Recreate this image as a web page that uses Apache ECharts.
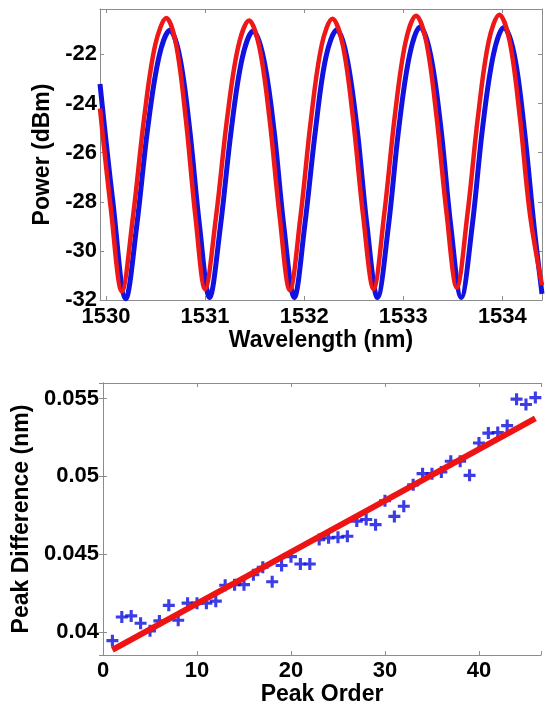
<!DOCTYPE html>
<html>
<head>
<meta charset="utf-8">
<script src="https://cdn.jsdelivr.net/npm/echarts@6/dist/echarts.min.js"></script>
<style>
html,body{margin:0;padding:0;background:#fff;}
#chart{width:546px;height:707px;}
</style>
</head>
<body>
<div id="chart"></div>
<script>
// ---- Top panel: spectra ----
const redWavelength = [1529.94, 1530.05, 1530.16, 1530.273, 1530.385, 1530.498, 1530.61, 1530.708, 1530.805, 1530.903, 1531.0, 1531.111, 1531.223, 1531.334, 1531.445, 1531.548, 1531.65, 1531.753, 1531.855, 1531.963, 1532.07, 1532.178, 1532.285, 1532.389, 1532.493, 1532.596, 1532.7, 1532.808, 1532.915, 1533.023, 1533.13, 1533.233, 1533.335, 1533.438, 1533.54, 1533.648, 1533.755, 1533.863, 1533.97, 1534.073, 1534.175, 1534.278, 1534.4];
const redPower = [-24.2, -28.3, -31.65, -28.6, -24.6, -21.6, -20.52, -21.6, -24.6, -28.6, -31.55, -28.6, -24.6, -21.7, -20.62, -21.7, -24.6, -28.6, -31.6, -28.6, -24.6, -21.6, -20.55, -21.6, -24.6, -28.6, -31.55, -28.5, -24.5, -21.5, -20.42, -21.5, -24.5, -28.5, -31.5, -28.5, -24.5, -21.45, -20.38, -21.45, -24.5, -28.5, -31.4];
const blueWavelength = [1529.94, 1530.07, 1530.2, 1530.31, 1530.42, 1530.535, 1530.645, 1530.745, 1530.845, 1530.945, 1531.045, 1531.155, 1531.265, 1531.375, 1531.485, 1531.59, 1531.695, 1531.795, 1531.9, 1532.005, 1532.115, 1532.22, 1532.33, 1532.43, 1532.535, 1532.635, 1532.74, 1532.85, 1532.955, 1533.065, 1533.17, 1533.275, 1533.38, 1533.48, 1533.585, 1533.695, 1533.8, 1533.91, 1534.015, 1534.12, 1534.22, 1534.32, 1534.4];
const bluePower = [-23.2, -28.0, -31.95, -29.0, -25.05, -22.1, -21.02, -22.1, -25.05, -29.0, -31.9, -29.0, -25.05, -22.15, -21.05, -22.15, -25.05, -29.0, -31.9, -29.0, -25.05, -22.1, -21.0, -22.1, -25.05, -29.0, -31.9, -29.0, -25.0, -22.0, -20.88, -22.0, -25.0, -29.0, -31.9, -29.0, -25.0, -22.0, -20.9, -22.0, -25.0, -29.0, -31.75];

// ---- Bottom panel: peak difference ----
const peakOrder = [1,2,3,4,5,6,7,8,9,10,11,12,13,14,15,16,17,18,19,20,21,22,23,24,25,26,27,28,29,30,31,32,33,34,35,36,37,38,39,40,41,42,43,44,45,46];
const peakDiff = [0.03943, 0.04095, 0.04102, 0.04055, 0.04006, 0.0407, 0.0417, 0.04074, 0.04184, 0.04184, 0.04184, 0.04197, 0.04299, 0.04303, 0.04303, 0.04367, 0.04415, 0.04322, 0.04426, 0.04483, 0.04436, 0.04436, 0.04593, 0.04604, 0.04608, 0.04614, 0.04712, 0.04722, 0.04689, 0.04843, 0.04742, 0.04807, 0.04945, 0.05017, 0.05017, 0.05028, 0.05097, 0.05097, 0.05006, 0.05214, 0.05278, 0.05282, 0.05326, 0.05496, 0.05462, 0.05506];
const fitOrder = [1, 46];
const fitDiff = [0.03883, 0.05373];

const FONT = 'Arial, "Liberation Sans", sans-serif';
const AXIS_GRAY = '#8c8c8c';
const labelStyle = {color:'#000', fontWeight:'bold', fontSize:22, fontFamily:FONT};
const nameStyle = {color:'#000', fontWeight:'bold', fontSize:23, fontFamily:FONT};

function frameAxis(extra){
  return Object.assign({
    type:'value', scale:true,
    axisLine:{show:true, lineStyle:{color:AXIS_GRAY, width:1}},
    axisTick:{show:true, inside:true, length:4, lineStyle:{color:AXIS_GRAY}},
    axisLabel:{show:false},
    splitLine:{show:false}
  }, extra);
}
function isMult(v, step){ const r = v/step; return Math.abs(r - Math.round(r)) < 1e-6; }

const chart = echarts.init(document.getElementById('chart'), null, {renderer:'canvas'});
chart.setOption({
  backgroundColor:'#fff',
  animation:false,
  grid:[
    {left:100, right:4, top:9, height:291},
    {left:103, right:5, top:383, height:274}
  ],
  xAxis:[
    frameAxis({gridIndex:0, min:1529.94, max:1534.4, splitNumber:4, position:'bottom',
      axisLabel:Object.assign({show:true, margin:6, formatter:v=>isMult(v,1)?String(Math.round(v)):''}, labelStyle),
      name:'Wavelength (nm)', nameLocation:'middle', nameGap:28, nameTextStyle:nameStyle}),
    frameAxis({gridIndex:0, min:1529.94, max:1534.4, splitNumber:4, position:'top'}),
    frameAxis({gridIndex:1, min:0, max:46.6, interval:10, position:'bottom',
      axisLabel:Object.assign({show:true, margin:5, formatter:v=>isMult(v,10)?String(Math.round(v)):''}, labelStyle),
      name:'Peak Order', nameLocation:'middle', nameGap:19, nameTextStyle:nameStyle}),
    frameAxis({gridIndex:1, min:0, max:46.6, interval:10, position:'top'})
  ],
  yAxis:[
    frameAxis({gridIndex:0, min:-32, max:-20.15, interval:2, position:'left',
      axisLabel:Object.assign({show:true, margin:3, formatter:v=>isMult(v,2)?String(Math.round(v)):''}, labelStyle),
      name:'Power (dBm)', nameLocation:'middle', nameGap:39, nameTextStyle:nameStyle}),
    frameAxis({gridIndex:0, min:-32, max:-20.15, interval:2, position:'right'}),
    frameAxis({gridIndex:1, min:0.0385, max:0.056, splitNumber:4, position:'left',
      axisLabel:Object.assign({show:true, margin:4, formatter:v=>isMult(v,0.005)?String(+v.toFixed(3)):''}, labelStyle),
      name:'Peak Difference (nm)', nameLocation:'middle', nameGap:67, nameTextStyle:nameStyle}),
    frameAxis({gridIndex:1, min:0.0385, max:0.056, splitNumber:4, position:'right'})
  ],
  series:[
    {type:'line', xAxisIndex:0, yAxisIndex:0, smooth:0.35, showSymbol:false,
      data:blueWavelength.map((x,i)=>[x, bluePower[i]]),
      lineStyle:{color:'#1212e0', width:5}},
    {type:'line', xAxisIndex:0, yAxisIndex:0, smooth:0.35, showSymbol:false,
      data:redWavelength.map((x,i)=>[x, redPower[i]]),
      lineStyle:{color:'#ee1818', width:4.5}},
    {type:'scatter', xAxisIndex:2, yAxisIndex:2,
      symbol:'path://M0,3.7 H3.7 V0 H6.3 V3.7 H10 V6.3 H6.3 V10 H3.7 V6.3 H0 Z',
      symbolSize:[12,12],
      itemStyle:{color:'#0c0ce0'},
      data:peakOrder.map((x,i)=>[x, peakDiff[i]])},
    {type:'line', xAxisIndex:2, yAxisIndex:2, showSymbol:false,
      data:fitOrder.map((x,i)=>[x, fitDiff[i]]),
      lineStyle:{color:'#ee1414', width:6}}
  ]
});
</script>
</body>
</html>
